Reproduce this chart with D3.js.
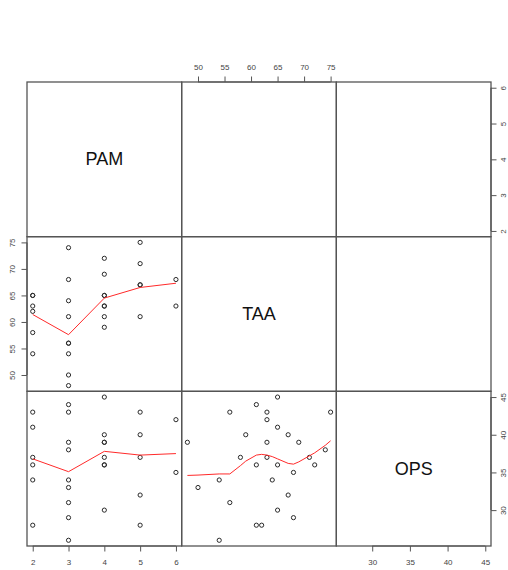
<!DOCTYPE html>
<html>
<head>
<meta charset="utf-8">
<script src="https://cdn.jsdelivr.net/npm/d3@7"></script>
<style>
  html, body { margin: 0; padding: 0; background: #fff; }
  svg { display: block; }
  text { font-family: "Liberation Sans", Arial, Helvetica, sans-serif; }
</style>
</head>
<body>
<svg id="chart" width="508" height="570"></svg>
<script>
// ---- data ----
const varNames = ["PAM", "TAA", "OPS"];
const PAM = [2,2,2,2,2,2, 3,3,3,3,3,3,3,3,3, 4,4,4,4,4,4,4,4, 5,5,5,5,5, 6,6];
const TAA = [65,65,63,62,58,54, 74,68,64,61,56,56,54,50,48, 72,69,65,65,63,63,61,59, 75,71,67,67,61, 68,63];
const OPS = [41,36,43,28,37,34, 38,29,34,44,43,31,26,33,39, 36,39,45,30,39,37,36,40, 43,37,40,32,28, 35,42];

const pamTicks = [2,3,4,5,6];
const taaTicks = [50,55,60,65,70,75];
const opsTicks = [30,35,40,45];

// smoothed (lowess) lines
const smoothPamX = [2,3,4,5,6];
const smoothPamTaaY = [61.4,57.6,64.5,66.5,67.3];
const smoothPamOpsY = [36.8,35.1,37.8,37.3,37.5];
const smoothTaaX = [48,50,54,56,58,59,61,62,63,64,65,67,68,69,71,72,74,75];
const smoothTaaOpsY = [34.6,34.65,34.8,34.8,35.9,36.5,37.3,37.4,37.3,37.1,36.8,36.2,36.1,36.4,37.2,37.6,38.6,39.2];

// ---- layout ----
const svg = d3.select("#chart");
const L = 27, T = 82, S = (491 - 27) / 3;
const vals = [PAM, TAA, OPS];
const ticks = [pamTicks, taaTicks, opsTicks];

function padded(v) {
  const [a, b] = d3.extent(v);
  const p = (b - a) * 0.04;
  return [a - p, b + p];
}
const xs = vals.map((v, i) => d3.scaleLinear().domain(padded(v)).range([L + i * S, L + (i + 1) * S]));
const ys = vals.map((v, i) => d3.scaleLinear().domain(padded(v)).range([T + (i + 1) * S, T + i * S]));

const smooths = {
  "1,0": [smoothPamX, smoothPamTaaY],
  "2,0": [smoothPamX, smoothPamOpsY],
  "2,1": [smoothTaaX, smoothTaaOpsY]
};

for (let r = 0; r < 3; r++) {
  for (let c = 0; c < 3; c++) {
    const x0 = L + c * S, y0 = T + r * S;
    if (r === c) {
      svg.append("text")
        .attr("x", x0 + S / 2).attr("y", y0 + S / 2)
        .attr("text-anchor", "middle").attr("dominant-baseline", "central")
        .attr("font-size", 18).attr("fill", "#111")
        .text(varNames[r]);
    } else if (r > c) {
      const g = svg.append("g");
      const xv = vals[c], yv = vals[r];
      g.selectAll("circle").data(xv.map((d, i) => [d, yv[i]])).enter()
        .append("circle")
        .attr("cx", d => xs[c](d[0])).attr("cy", d => ys[r](d[1]))
        .attr("r", 2.1).attr("fill", "none")
        .attr("stroke", "#2a2a2a").attr("stroke-width", 1);
      const sm = smooths[r + "," + c];
      const line = d3.line().x(d => xs[c](d[0])).y(d => ys[r](d[1]));
      g.append("path")
        .datum(sm[0].map((d, i) => [d, sm[1][i]]))
        .attr("d", line).attr("fill", "none")
        .attr("stroke", "#ff2a2a").attr("stroke-width", 1);
    }
  }
}

// panel boxes
for (let r = 0; r < 3; r++) {
  for (let c = 0; c < 3; c++) {
    svg.append("rect")
      .attr("x", L + c * S).attr("y", T + r * S)
      .attr("width", S).attr("height", S)
      .attr("fill", "none").attr("stroke", "#555").attr("stroke-width", 1.3);
  }
}

// ---- axes ----
function styleAxis(g) {
  g.select(".domain").remove();
  g.selectAll(".tick line").attr("stroke", "#555").attr("stroke-width", 1);
  g.selectAll(".tick text").attr("fill", "#444").attr("font-size", 8)
    .attr("font-family", "Liberation Sans, Arial, sans-serif");
}

const bottomY = T + 3 * S, topY = T, leftX = L, rightX = L + 3 * S;

// column axes: 0 bottom, 1 top, 2 bottom
[0, 1, 2].forEach(c => {
  const isTop = c === 1;
  const yPos = isTop ? topY : bottomY;
  const ax = (isTop ? d3.axisTop(xs[c]) : d3.axisBottom(xs[c]))
    .tickValues(ticks[c]).tickSize(5.5).tickFormat(d3.format("d"));
  const g = svg.append("g").attr("transform", `translate(0,${yPos})`).call(ax);
  styleAxis(g);
  g.selectAll(".tick text")
    .attr("y", isTop ? -14.5 : 16)
    .attr("dy", "0.35em");
  const t = ticks[c];
  svg.append("line")
    .attr("x1", xs[c](t[0])).attr("x2", xs[c](t[t.length - 1]))
    .attr("y1", yPos).attr("y2", yPos)
    .attr("stroke", "#555").attr("stroke-width", 1.2);
});

// row axes: 0 right, 1 left, 2 right
[0, 1, 2].forEach(r => {
  const isLeft = r === 1;
  const xPos = isLeft ? leftX : rightX;
  const ax = (isLeft ? d3.axisLeft(ys[r]) : d3.axisRight(ys[r]))
    .tickValues(ticks[r]).tickSize(5.5).tickFormat(d3.format("d"));
  const g = svg.append("g").attr("transform", `translate(${xPos},0)`).call(ax);
  styleAxis(g);
  g.selectAll(".tick text")
    .attr("x", 0).attr("y", 0).attr("dy", "0.35em")
    .attr("text-anchor", "middle")
    .attr("transform", `translate(${isLeft ? -14.5 : 12},0) rotate(-90)`);
  const t = ticks[r];
  svg.append("line")
    .attr("y1", ys[r](t[0])).attr("y2", ys[r](t[t.length - 1]))
    .attr("x1", xPos).attr("x2", xPos)
    .attr("stroke", "#555").attr("stroke-width", 1.2);
});
</script>
</body>
</html>
